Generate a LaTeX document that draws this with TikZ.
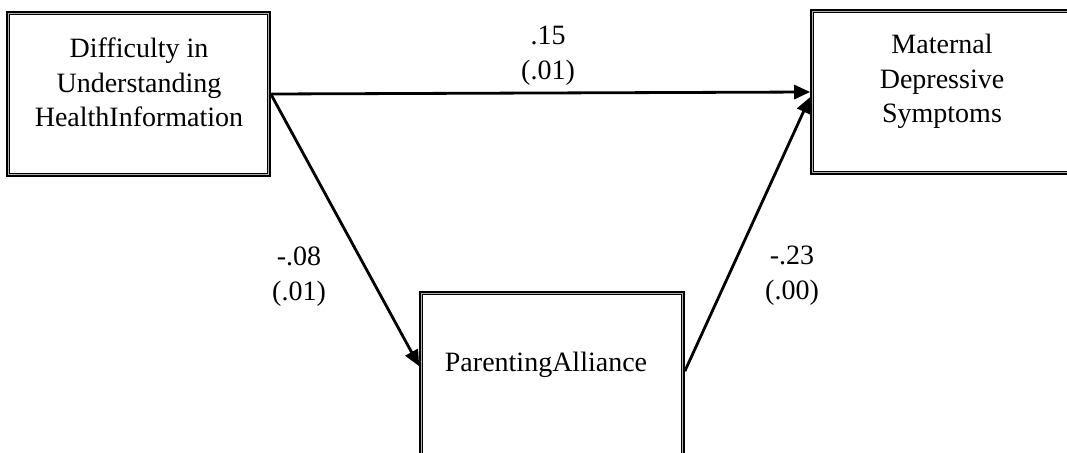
\documentclass[tikz,border=0pt]{standalone}
\usepackage{fontspec}
\setmainfont{Liberation Serif}
\usetikzlibrary{arrows.meta}
\begin{document}
\begin{tikzpicture}[x=1pt,y=-1pt,
  box/.style={draw=black, line width=3.6pt, inner sep=0pt},
  inset/.style={draw=black!30, line width=1.4pt},
  txt/.style={font=\fontsize{28}{34.5}\selectfont, align=center, inner sep=0pt, anchor=north},
  link/.style={draw=black, line width=2.8pt, -{Triangle[length=16pt,width=14pt]}},
]
\clip (0,0) rectangle (1067,452);
% boxes
\node[box, minimum width=261pt, minimum height=162pt] (hi) at (138.5,94) {};
\node[box, minimum width=258pt, minimum height=162pt] (md) at (941,92) {};
\node[box, minimum width=262pt, minimum height=227pt] (pa) at (552,406.5) {};
\foreach \n in {hi,md,pa}{
  \draw[inset] ([xshift=2.4pt,yshift=-2.4pt]\n.north west) rectangle ([xshift=-2.4pt,yshift=2.4pt]\n.south east);
}
% box texts
\node[txt] (hit) at (139,38) {Difficulty in\\Understanding\\HealthInformation};
\node[txt] (mdt) at (942,34) {Maternal\\Depressive\\Symptoms};
\node[txt] (pat) at (546,352) {ParentingAlliance};
% coefficients
\node[txt] (c1) at (548,26) {.15\\(.01)};
\node[txt] (c2) at (299,247) {-.08\\(.01)};
\node[txt] (c3) at (792,246) {-.23\\(.00)};
% paths
\draw[link] (hi.east) -- (md.west);
\draw[link] (hi.east) -- ([yshift=-75pt]pa.north west);
\draw[link] ([yshift=-80pt]pa.north east) -- ([yshift=-5pt]md.west);
\end{tikzpicture}
\end{document}
